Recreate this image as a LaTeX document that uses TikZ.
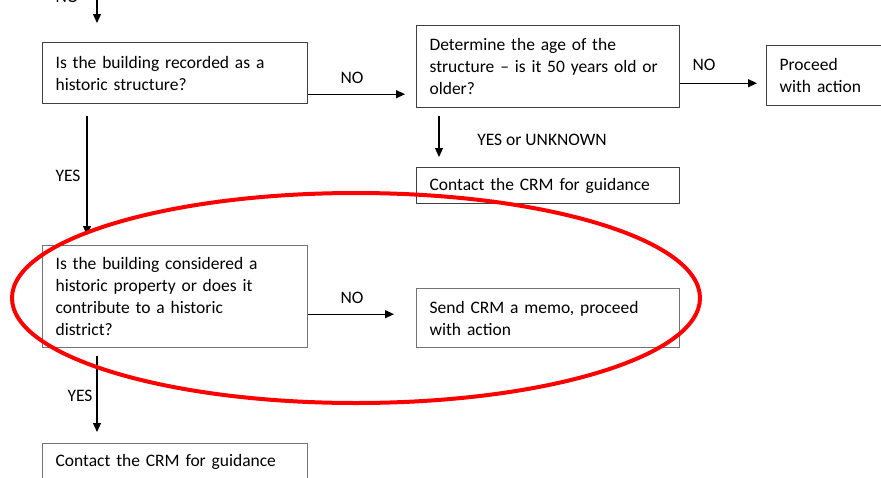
\documentclass[tikz,border=0pt]{standalone}
\usepackage{fontspec}
\setmainfont{Carlito}
\usetikzlibrary{arrows.meta}

\tikzset{
  stepbox/.style={draw=black!75, line width=1.2pt, anchor=north west, align=left,
    inner xsep=13pt, inner ysep=0pt, font=\fontsize{17.5}{22}\selectfont},
  lbl/.style={inner sep=0pt, font=\fontsize{17.5}{22}\selectfont},
  arr/.style={line width=1.2pt, -{Triangle[length=9pt,width=8pt]}},
  ring/.style={draw=red, line width=4pt}
}

\begin{document}
\begin{tikzpicture}[x=1pt,y=-1pt]
\useasboundingbox (0,0) rectangle (881,477);
\clip (0,0) rectangle (881,477);

% Question: recorded as historic
\node[stepbox, text width=239pt, minimum height=61pt] (recorded) at (42,42)
  {Is the building recorded as a\\historic structure?};

% Question: age of the structure
\node[stepbox, text width=237pt, minimum height=82pt] (age) at (416,25)
  {Determine the age of the\\structure -- is it 50 years old or\\older?};

% Outcome: proceed
\node[stepbox, text width=200pt, minimum height=60pt] (proceed) at (766,45)
  {Proceed\\with action};

% Outcome: contact CRM (upper)
\node[stepbox, text width=237pt, minimum height=36pt] (contactA) at (416,167)
  {Contact the CRM for guidance};

% Question: historic property
\node[stepbox, text width=239pt, minimum height=102pt, draw=black!55] (property) at (42,245)
  {Is the building considered a\\historic property or does it\\contribute to a historic\\district?};

% Outcome: memo
\node[stepbox, text width=237pt, minimum height=59pt, draw=black!55] (memo) at (416,288)
  {Send CRM a memo, proceed\\with action};

% Outcome: contact CRM (lower)
\node[stepbox, text width=239pt, minimum height=36pt, draw=black!55] (contactB) at (42,443)
  {Contact the CRM for guidance};

% Incoming arrow from above
\coordinate (entry) at (97,0);
\node[lbl] (noTop) at (67,-3) {NO};
\draw[arr, shorten >=19pt] (entry) -- (entry |- recorded.north);

% recorded -> age
\draw[arr, shorten >=11pt] ([yshift=10pt]recorded.south east) -- ([yshift=10pt]recorded.south east -| age.west);
\node[lbl] (noA) at (352,78) {NO};

% age -> proceed
\draw[arr, shorten >=9pt] ([yshift=25pt]age.south east) -- ([yshift=25pt]age.south east -| proceed.west);
\node[lbl] (noB) at (704,65) {NO};

% age -> contactA
\draw[arr, shorten <=8pt, shorten >=10pt] ([xshift=23pt]age.south west) -- ([xshift=23pt]age.south west |- contactA.north);
\node[lbl] (yesA) at (542,140) {YES or UNKNOWN};

% recorded -> property
\draw[arr, shorten <=12pt, shorten >=10pt] ([xshift=45pt]recorded.south west) -- ([xshift=45pt]recorded.south west |- property.north);
\node[lbl] (yesB) at (68,176) {YES};

% property -> memo
\draw[arr, shorten >=22pt] ([yshift=34pt]property.south east) -- ([yshift=34pt]property.south east -| memo.west);
\node[lbl] (noC) at (352,298) {NO};

% property -> contactB
\draw[arr, shorten <=8pt, shorten >=11pt] ([xshift=55pt]property.south west) -- ([xshift=55pt]property.south west |- contactB.north);
\node[lbl] (yesC) at (80,396) {YES};

% Red highlight ring
\draw[ring] (356,298) ellipse [x radius=344pt, y radius=105pt];
\end{tikzpicture}
\end{document}
